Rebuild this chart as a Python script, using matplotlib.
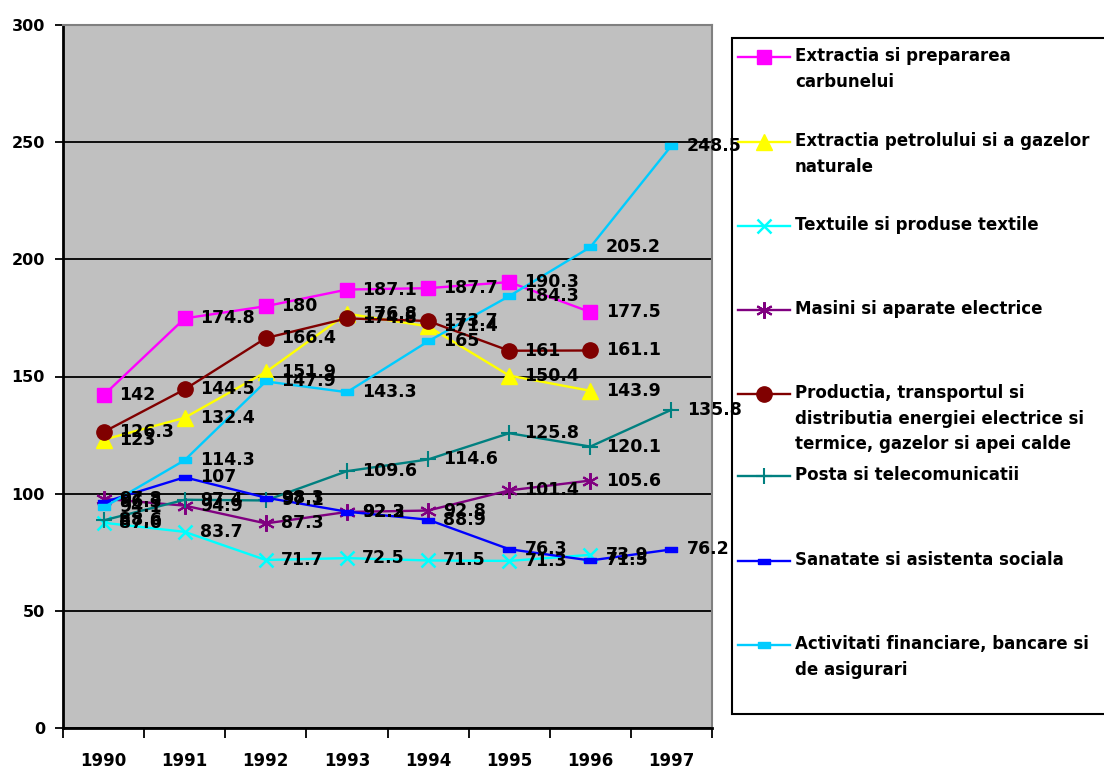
import numpy as np
import matplotlib
matplotlib.use("Agg")
import matplotlib.pyplot as plt
from matplotlib.lines import Line2D
from matplotlib.patches import Rectangle

plt.rcParams['font.family'] = ['DejaVu Sans']
plt.rcParams['font.weight'] = 'bold'

years = ["1990", "1991", "1992", "1993", "1994", "1995", "1996", "1997"]

carbune = [142, 174.8, 180, 187.1, 187.7, 190.3, 177.5, np.nan]
petrol = [123, 132.4, 151.9, 176.8, 171.4, 150.4, 143.9, np.nan]
textile = [87.6, 83.7, 71.7, 72.5, 71.5, 71.3, 73.9, np.nan]
masini = [97.8, 94.9, 87.3, 92.2, 92.8, 101.4, 105.6, np.nan]
energie = [126.3, 144.5, 166.4, 174.8, 173.7, 161, 161.1, np.nan]
posta = [88.6, 97.4, 97.1, 109.6, 114.6, 125.8, 120.1, 135.8]
sanatate = [96.3, 107, 98.3, 92.3, 88.9, 76.3, 71.5, 76.2]
financiar = [94.1, 114.3, 147.9, 143.3, 165, 184.3, 205.2, 248.5]

labels = [
    "Extractia si prepararea\ncarbunelui",
    "Extractia petrolului si a gazelor\nnaturale",
    "Textuile si produse textile",
    "Masini si aparate electrice",
    "Productia, transportul si\ndistributia energiei electrice si\ntermice, gazelor si apei calde",
    "Posta si telecomunicatii",
    "Sanatate si asistenta sociala",
    "Activitati financiare, bancare si\nde asigurari",
]

# small horizontal bar marker used by the last two series
bar = [(-1, -0.45), (1, -0.45), (1, 0.45), (-1, 0.45), (-1, -0.45)]

styles = [
    dict(color="#FF00FF", marker="s", ms=10),
    dict(color="#FFFF00", marker="^", ms=11),
    dict(color="#00FFFF", marker="x", ms=10, mew=1.8),
    dict(color="#800080", marker=(6, 2, 0), ms=12, mew=1.5),
    dict(color="#800000", marker="o", ms=11),
    dict(color="#008080", marker="+", ms=12, mew=1.5),
    dict(color="#0000FF", marker=bar, ms=8),
    dict(color="#00CCFF", marker=bar, ms=9),
]

series = [carbune, petrol, textile, masini, energie, posta, sanatate, financiar]

fig = plt.figure(figsize=(11.04, 7.7), dpi=100)

# legend box drawn by hand in pixel coordinates
lg = fig.add_axes([0, 0, 1, 1], facecolor="none")
lg.set_xlim(0, 1104)
lg.set_ylim(770, 0)
lg.axis("off")
lg.add_patch(Rectangle((732, 38), 400, 676, facecolor="white", edgecolor="black",
                       lw=1.5, zorder=1))
entry_y = [57, 142, 226, 310, 394, 476, 561, 645]
for st, lab, yy in zip(styles, labels, entry_y):
    lg.add_line(Line2D([738, 790], [yy, yy], color=st["color"], lw=1.7,
                       zorder=2))
    lg.add_line(Line2D([764], [yy], color=st["color"], marker=st["marker"],
                       ms=st["ms"], mew=st.get("mew", 1), mfc=st["color"],
                       mec=st["color"], zorder=2))
    lg.text(795, yy - 10, lab, fontsize=12, fontweight="bold", va="top",
            ha="left", linespacing=1.55, zorder=3)

ax = fig.add_axes([63/1104, 1 - 728/770, 649/1104, 703/770])
ax.set_zorder(5)
ax.set_facecolor("#C0C0C0")

x = np.arange(len(years))
for vals, st in zip(series, styles):
    ax.plot(x, vals, color=st["color"], lw=1.7, marker=st["marker"],
            ms=st["ms"], mew=st.get("mew", 1), mfc=st["color"], mec=st["color"],
            zorder=3)

for vals in series:
    for i, v in enumerate(vals):
        if np.isnan(v):
            continue
        ax.annotate(f"{v:g}", (i, v), xytext=(11, 0), textcoords="offset points",
                    va="center", ha="left", fontsize=12.5, fontweight="bold",
                    annotation_clip=False, zorder=4)

ax.set_xlim(-0.5, len(years) - 0.5)
ax.set_ylim(0, 300)
ax.set_yticks(np.arange(0, 301, 50))
ax.yaxis.grid(True, color="black", lw=1.3)
ax.set_axisbelow(True)
ax.tick_params(axis="y", length=6, width=1.3, labelsize=11.5, pad=7)

ax.set_xticks(x)
ax.set_xticklabels(years)
ax.set_xticks(np.arange(-0.5, len(years)), minor=True)
ax.tick_params(axis="x", which="major", length=0, labelsize=12, pad=17)
ax.tick_params(axis="x", which="minor", length=7, width=1.3)

for side in ["left", "bottom"]:
    ax.spines[side].set_linewidth(2)
for side in ["top", "right"]:
    ax.spines[side].set_color("#808080")
    ax.spines[side].set_linewidth(1.5)

fig.savefig("out.png", dpi=100)
